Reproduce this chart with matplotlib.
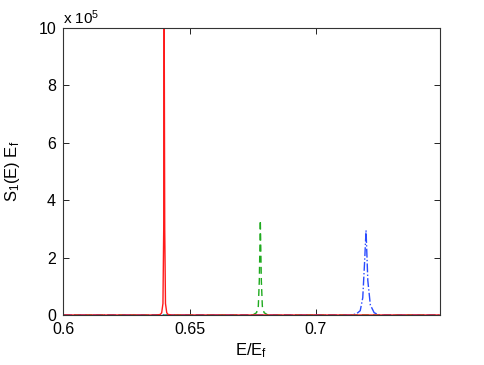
import matplotlib
matplotlib.use('Agg')
import matplotlib.pyplot as plt
import numpy as np

plt.rcParams['font.family'] = ['Liberation Sans', 'DejaVu Sans']
plt.rcParams['mathtext.default'] = 'regular'

# red solid peak (S_1 E_f values)
x_red = [0.6, 0.637, 0.6385, 0.639, 0.6395, 0.6398, 0.64, 0.6402, 0.6405, 0.641, 0.6415, 0.643, 0.75]
y_red = [0, 0, 2000, 8000, 40000, 300000, 1000000, 300000, 40000, 8000, 2000, 0, 0]

# green dashed peak
x_green = [0.6, 0.675, 0.6765, 0.6772, 0.6776, 0.678, 0.6784, 0.6788, 0.6795, 0.681, 0.75]
y_green = [0, 0, 8000, 30000, 120000, 330000, 120000, 30000, 8000, 0, 0]

# blue dash-dot peak
x_blue = [0.6, 0.714, 0.716, 0.7175, 0.7185, 0.7192, 0.7198, 0.7205, 0.7215, 0.723, 0.725, 0.75]
y_blue = [0, 0, 4000, 15000, 60000, 180000, 295000, 120000, 35000, 8000, 0, 0]

scale = 1e5

fig = plt.figure(figsize=(4.85, 3.65), dpi=100)
ax = fig.add_axes([0.13, 0.137, 0.777, 0.786])

ax.plot(x_green, np.array(y_green) / scale, color='#1faa1f', ls=(0, (5, 3)), lw=1.0)
ax.plot(x_blue, np.array(y_blue) / scale, color='#2a4bff', ls='-.', lw=1.0)
ax.plot(x_red, np.array(y_red) / scale, color='#ff1a1a', ls='-', lw=1.0)

ax.set_xlim(0.6, 0.749)
ax.set_ylim(0, 10)
ax.set_xticks([0.6, 0.65, 0.7])
ax.set_xticklabels(['0.6', '0.65', '0.7'])
ax.set_yticks([0, 2, 4, 6, 8, 10])
ax.set_yticklabels(['0', '2', '4', '6', '8', '10'])
ax.tick_params(direction='in', top=True, right=True, length=4, width=0.6,
               labelsize=11.5, pad=5)
for s in ax.spines.values():
    s.set_linewidth(0.8)
    s.set_color('#333333')

ax.set_xlabel('E/E$_f$', fontsize=12, labelpad=3)
ax.set_ylabel('S$_1$(E) E$_f$', fontsize=12, labelpad=12)
ax.text(0.0, 1.005, 'x 10$^5$', transform=ax.transAxes, fontsize=11,
        ha='left', va='bottom')

fig.savefig('out.png', dpi=100)
